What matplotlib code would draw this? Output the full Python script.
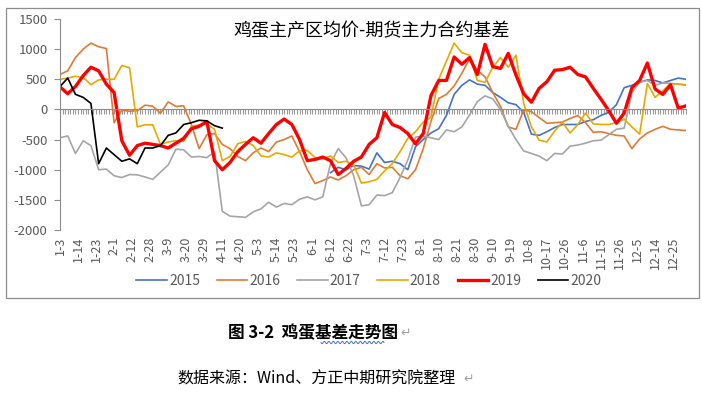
import numpy as np
import matplotlib
matplotlib.use("Agg")
import matplotlib.pyplot as plt
from matplotlib.patches import Rectangle

plt.rcParams['font.family'] = ['Noto Sans CJK SC', 'DejaVu Sans']
plt.rcParams['axes.unicode_minus'] = False

# category axis: one slot per trading day, labelled every 7th slot
tick_labels = ["1-3", "1-14", "1-23", "2-1", "2-12", "2-28", "3-9", "3-20", "3-29",
               "4-11", "4-20", "5-3", "5-14", "5-23", "6-1", "6-12", "6-22", "7-3",
               "7-12", "7-23", "8-1", "8-10", "8-21", "8-30", "9-10", "9-19", "10-8",
               "10-17", "10-26", "11-6", "11-15", "11-26", "12-5", "12-14", "12-25"]
n_days = 244
label_every = 7
sample_every = 3

years = ["2015", "2016", "2017", "2018", "2019", "2020"]

basis_2015 = [None] * 35 + [
    -1050, -960, -1000, -930, -940, -990, -720, -880, -860, -900, -1000, -620,
    -500, -390, -320, -100, 250, 400, 490, 420, 400, 280, 200, 110, 80, -50,
    -410, -430, -370, -300, -250, -250, -250, -200, -170, -100, -50, 80, 360,
    400, 450, 490, 480, 440, 480, 520, 500]

basis_2016 = [
    580, 640, 860, 1000, 1100, 1040, 1010, -220, -10, -30, -20, 70, 55, -65, 125, 50, 60,
    -250, -650, -420, -400, -580, -650, -780,
    -850, -720, -640, -700, -540, -500, -440, -700, -1000, -1230, -1180, -1120, -1170,
    -1100, -1000, -960, -1080, -900, -970, -960, -1100, -1150, -1000, -650, -200, 180,
    250, 390, 600,
    840, 650, 540, 280, 50, -290, -330, -10, -35, -135, -230, -220, -210, -150, -100,
    -220, -380, -370, -400, -430, -440, -650, -490, -390, -330, -280, -330, -340, -350]

basis_2017 = [
    -470, -440, -730, -520, -600, -1000, -990, -1100, -1130, -1080, -1085, -1120, -1160,
    -1040, -920, -660, -670, -790, -780, -800, -700,
    -1690, -1770, -1780, -1790, -1700, -1650, -1540, -1620, -1560, -1580, -1490,
    -1450, -1500, -1450, -900, -650, -800, -1100, -1600, -1580, -1420, -1430, -1380,
    -1130, -840, -460, -440,
    -470, -500, -340, -370, -290, -90, 130, 225, 175, -5, -280, -500, -690, -730, -775, -850,
    -730, -740, -610, -590, -560, -520, -510, -420, -330, -310, 280, 450, 480, 400, 440,
    430, 420, 400]

basis_2018 = [
    500, 520, 550, 530, 410, 490, 500, 500, 730, 690, -290, -255, -255, -580, -540, -520,
    -530, -280, -260, -240, -330, -850, -780, -570,
    -530, -600, -770, -790, -720, -750, -790, -690, -680, -800, -820, -770, -880, -860,
    -920, -1220, -1200, -1160, -1020, -900, -700, -480, -370, -210,
    -130, 500, 800, 1100, 940, 900, 480, 450, 700, 860, 700, 900, 100, -290, -510, -540,
    -360, -210, -390, -250, -60, -240, -250, -250, -220, -160, -290, -410, 430, 200, 310,
    430, 420, 410]

basis_2019 = [
    375, 260, 380, 560, 700, 640, 420, 280, -520, -760, -600, -560, -580, -600, -640,
    -560, -480, -320, -280, -200, -850, -1000, -880, -700,
    -580, -470, -560, -400, -250, -160, -250, -500, -850, -830, -790, -850, -1080, -980,
    -860, -790, -580, -470, -50, -250, -300, -400, -570, -400, 230, 480, 480, 870, 750,
    860, 580, 1080, 710, 680, 930, 570, 260, 120, 350, 460,
    650, 660, 700, 580, 540, 350, 170, -20, -230, -60, 360, 480, 770, 340, 250, 410, 20, 60]

basis_2020 = [
    380, 520, 250, 200, 100, -900, -640, -750, -860, -820, -900, -640, -640, -600, -430,
    -390, -250, -220, -180, -190, -270, -310] + [None] * 60

series = [basis_2015, basis_2016, basis_2017, basis_2018, basis_2019, basis_2020]
colors = ["#4472C4", "#E07A35", "#A5A5A5", "#E8A800", "#FF0000", "#000000"]
widths = [1.2, 1.2, 1.2, 1.2, 2.4, 1.2]

axis_gray = "#8C8C8C"
text_gray = "#595959"

W, H = 702, 399
fig = plt.figure(figsize=(W / 100, H / 100), dpi=100)
ax = fig.add_axes([60 / W, 1 - 230 / H, 626 / W, 211 / H])

for year, vals, c, lw in zip(years, series, colors, widths):
    y = np.array([np.nan if v is None else v for v in vals], dtype=float)
    x = np.arange(len(y)) * sample_every
    ax.plot(x, y, color=c, lw=lw, label=year, solid_joinstyle="round")

ax.set_xlim(0, n_days - 1)
ax.set_ylim(-2000, 1500)
ax.set_yticks(np.arange(-2000, 1501, 500))

ax.spines[["top", "right"]].set_visible(False)
ax.spines["left"].set_color(axis_gray)
ax.spines["bottom"].set_position(("data", 0))
ax.spines["bottom"].set_color(axis_gray)
ax.set_xticks([])
ax.set_xticks(np.arange(n_days), minor=True)
ax.tick_params(axis="x", which="minor", length=3.5, width=0.8, color="#999999",
               direction="out", labelbottom=False)
ax.tick_params(axis="y", length=4, width=0.8, color=axis_gray, labelsize=9.5,
               labelcolor=text_gray, pad=5)

# date labels sit at the bottom of the plot area, not on the zero line
sec = ax.secondary_xaxis("bottom")
sec.set_xticks(np.arange(0, n_days, label_every)[:len(tick_labels)], tick_labels, rotation=90)
sec.spines["bottom"].set_visible(False)
sec.tick_params(length=0, pad=5, labelsize=9, labelcolor=text_gray)

fig.text(372 / W, 1 - 31 / H, "鸡蛋主产区均价-期货主力合约基差", ha="center", va="center",
         fontsize=13, color="black")

fig.legend(loc="center", bbox_to_anchor=(369 / W, 1 - 281 / H), ncol=6, frameon=False,
           fontsize=10, handlelength=2.2, handletextpad=0.15, columnspacing=1.2,
           labelcolor=text_gray)

fig.add_artist(Rectangle((6 / W, 1 - 298 / H), 693 / W, 290 / H, transform=fig.transFigure,
                         fill=False, edgecolor=axis_gray, lw=0.9))

fig.text(398 / W, 1 - 333 / H, "图 3-2  鸡蛋基差走势图", ha="right", va="center",
         fontsize=12, fontweight="bold", color="black")
fig.text(400 / W, 1 - 333 / H, "↵", ha="left", va="center", fontsize=9, color="#A0A0A0")

# word-processor spell-check squiggle under the caption
sx = np.linspace(321, 384, 120)
sy = 342.5 + 1.2 * np.sin((sx - 321) / 4.5 * 2 * np.pi)
fig.add_artist(plt.Line2D(sx / W, 1 - sy / H, transform=fig.transFigure,
                          color="#4472C4", lw=0.7))

fig.text(456 / W, 1 - 379 / H, "数据来源：Wind、方正中期研究院整理", ha="right", va="center",
         fontsize=11.5, color="black")
fig.text(463 / W, 1 - 379 / H, "↵", ha="left", va="center", fontsize=9, color="#A0A0A0")

fig.savefig("out.png", dpi=100)
